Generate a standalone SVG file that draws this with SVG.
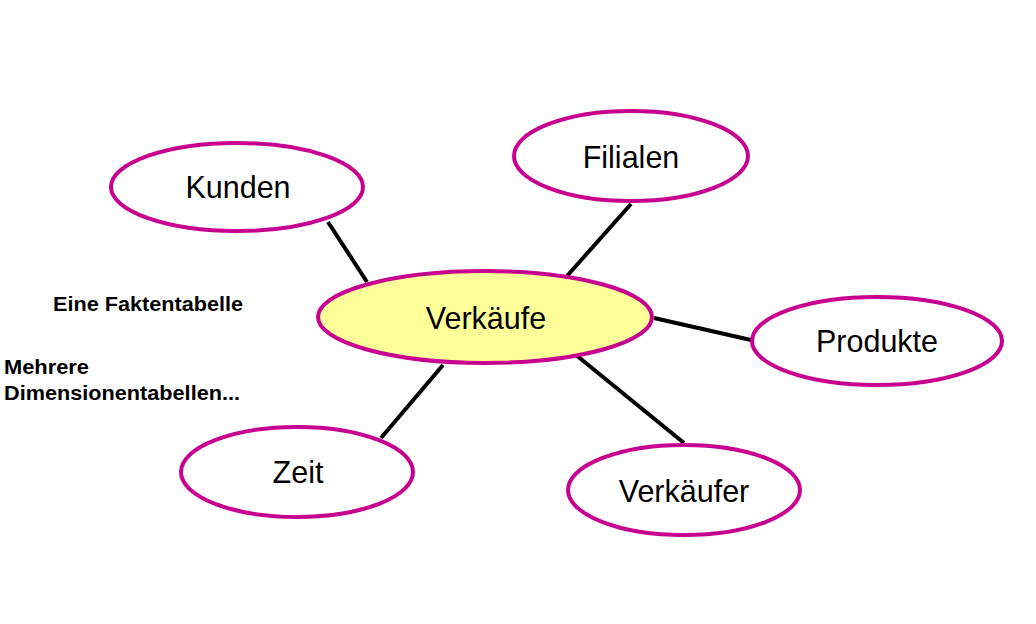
<svg xmlns="http://www.w3.org/2000/svg" width="1036" height="624" viewBox="0 0 1036 624">
<style>
.n{fill:#fff;stroke:#C8008F;stroke-width:4}
.c{fill:#FFFF99}
.t{font-family:"Liberation Sans",Arial,sans-serif;font-size:30.5px;fill:#000;text-anchor:middle;dominant-baseline:central}
.b{font-family:"Liberation Sans",Arial,sans-serif;font-size:20px;font-weight:bold;fill:#000}
.l{stroke:#000;stroke-width:4;fill:none}
</style>
<rect width="1036" height="624" fill="#fff"/>
<g id="connectors">
<line class="l" x1="328" y1="222" x2="367" y2="282"/>
<line class="l" x1="631" y1="204" x2="567" y2="276"/>
<line class="l" x1="654" y1="318" x2="751" y2="340"/>
<line class="l" x1="381" y1="438" x2="443" y2="365"/>
<line class="l" x1="576" y1="355" x2="684" y2="443"/>
</g>
<g id="kunden"><ellipse class="n" cx="237" cy="187" rx="126" ry="44"/><text class="t" x="238" y="187">Kunden</text></g>
<g id="filialen"><ellipse class="n" cx="631" cy="156" rx="117" ry="45"/><text class="t" x="631" y="157">Filialen</text></g>
<g id="verkaeufe"><ellipse class="n c" cx="485" cy="317" rx="167" ry="46"/><text class="t" x="486" y="318">Verkäufe</text></g>
<g id="produkte"><ellipse class="n" cx="877" cy="341" rx="125" ry="44"/><text class="t" x="877" y="341">Produkte</text></g>
<g id="zeit"><ellipse class="n" cx="297" cy="472" rx="116" ry="45"/><text class="t" x="298" y="472">Zeit</text></g>
<g id="verkaeufer"><ellipse class="n" cx="684" cy="490" rx="116" ry="45"/><text class="t" x="684" y="491">Verkäufer</text></g>
<g id="notes">
<text class="b" x="53" y="311" textLength="190" lengthAdjust="spacingAndGlyphs">Eine Faktentabelle</text>
<text class="b" x="4" y="374" textLength="85" lengthAdjust="spacingAndGlyphs">Mehrere</text>
<text class="b" x="4" y="400" textLength="236" lengthAdjust="spacingAndGlyphs">Dimensionentabellen...</text>
</g>
</svg>
